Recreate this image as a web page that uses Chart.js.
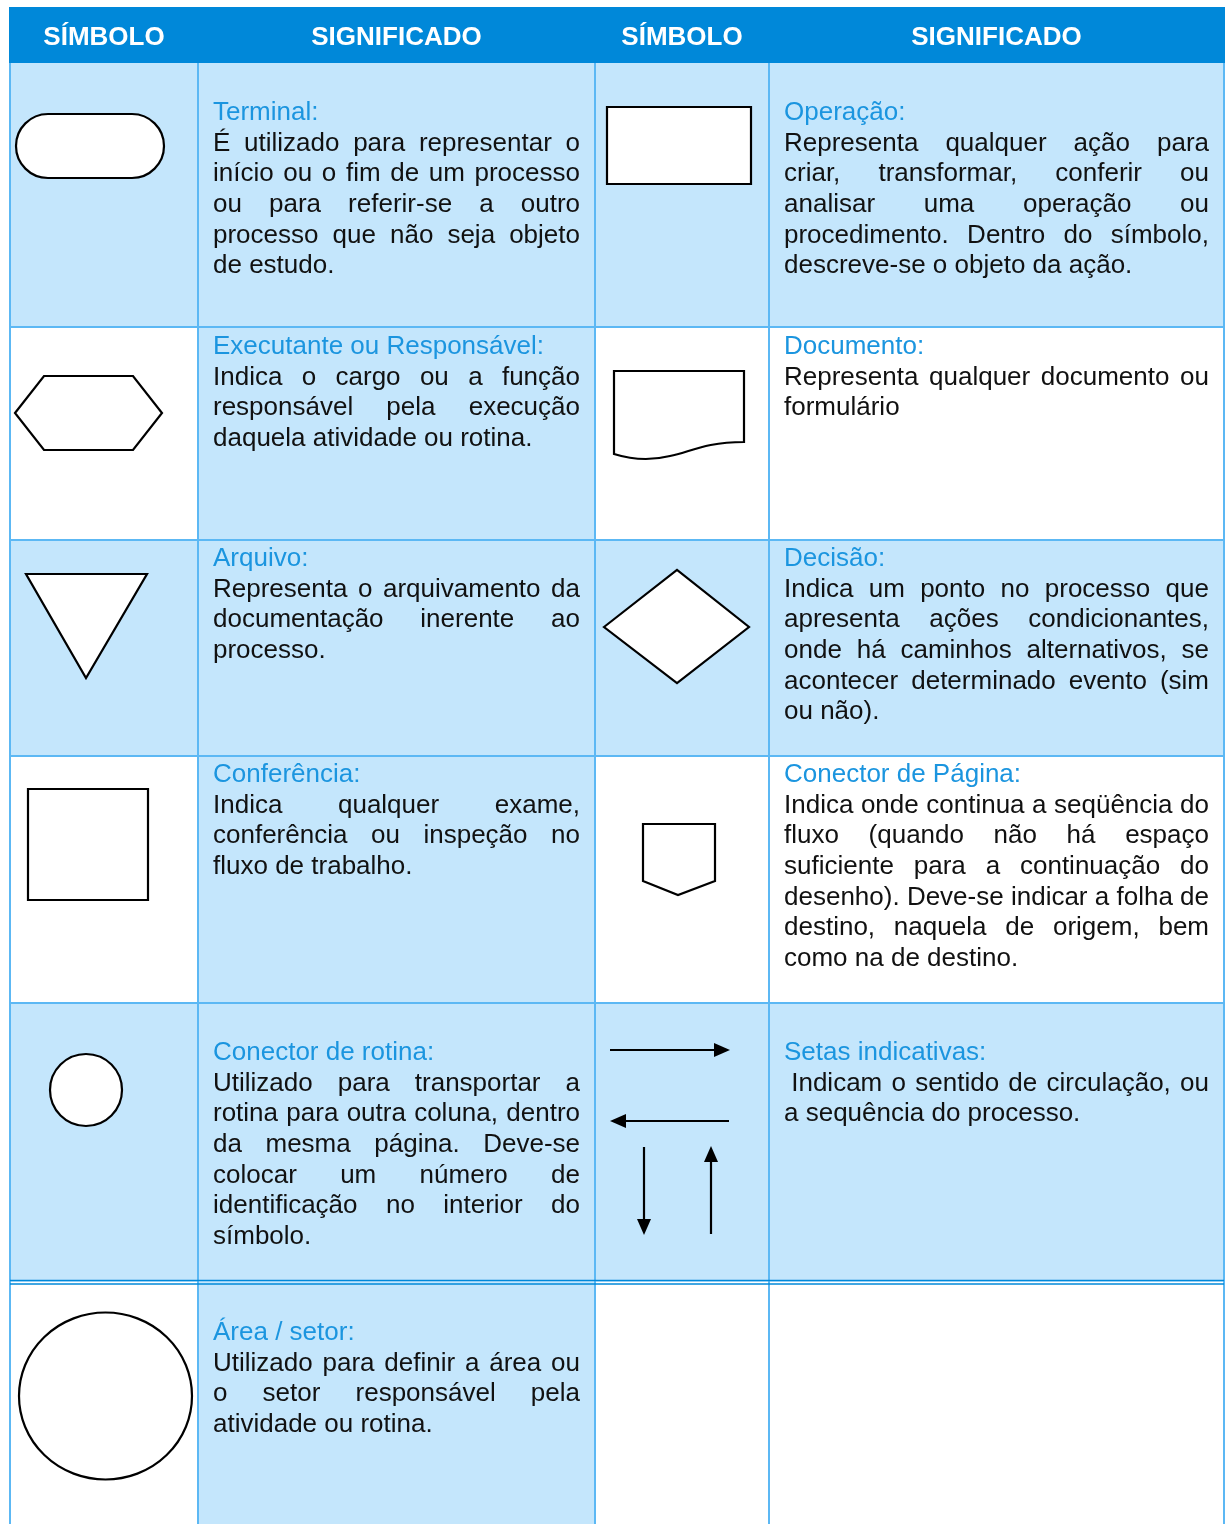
<!DOCTYPE html>
<html>
<head>
<meta charset="utf-8">
<script src="https://cdn.jsdelivr.net/npm/chart.js@4.4.0/dist/chart.umd.min.js"></script>
<style>
  body { margin: 0; background: #fff; }
  canvas { display: block; }
</style>
</head>
<body>
<canvas id="symbolChart" width="1225" height="1524"></canvas>
<script>
// table content
var headers = ["SÍMBOLO", "SIGNIFICADO", "SÍMBOLO", "SIGNIFICADO"];

var symbolNames = [
  "Terminal:", "Operação:",
  "Executante ou Responsável:", "Documento:",
  "Arquivo:", "Decisão:",
  "Conferência:", "Conector de Página:",
  "Conector de rotina:", "Setas indicativas:",
  "Área / setor:"
];

var symbolKinds = [
  "terminal", "operation",
  "hexagon", "document",
  "triangle", "diamond",
  "square", "pageConnector",
  "circle", "arrows",
  "area"
];

var symbolTexts = [
  ["É utilizado para representar o", "início ou o fim de um processo", "ou para referir-se a outro", "processo que não seja objeto", "de estudo."],
  ["Representa qualquer ação para", "criar, transformar, conferir ou", "analisar uma operação ou", "procedimento. Dentro do símbolo,", "descreve-se o objeto da ação."],
  ["Indica o cargo ou a função", "responsável pela execução", "daquela atividade ou rotina."],
  ["Representa qualquer documento ou", "formulário"],
  ["Representa o arquivamento da", "documentação inerente ao", "processo."],
  ["Indica um ponto no processo que", "apresenta ações condicionantes,", "onde há caminhos alternativos, se", "acontecer determinado evento (sim", "ou não)."],
  ["Indica qualquer exame,", "conferência ou inspeção no", "fluxo de trabalho."],
  ["Indica onde continua a seqüência do", "fluxo (quando não há espaço", "suficiente para a continuação do", "desenho). Deve-se indicar a folha de", "destino, naquela de origem, bem", "como na de destino."],
  ["Utilizado para transportar a", "rotina para outra coluna, dentro", "da mesma página. Deve-se", "colocar um número de", "identificação no interior do", "símbolo."],
  [" Indicam o sentido de circulação, ou", "a sequência do processo."],
  ["Utilizado para definir a área ou", "o setor responsável pela", "atividade ou rotina."]
];

// layout (table units = page pixels)
var colEdges = [10, 198, 595, 769, 1224];
var rowEdges = [63, 327, 540, 756, 1003, 1282, 1524];
var titleY = [113, 347, 559, 775, 1053, 1333];
var lineStep = 30.6;
var textPad = [15, 15];

var headerBlue = "#0088d9";
var cellBlue = "#c4e6fc";
var gridBlue = "#5cb8f4";
var titleBlue = "#1b95df";
var fontFamily = '"Liberation Sans", Arial, sans-serif';

function drawLine(ctx, text, x0, x1, y, justify) {
  var space = ctx.measureText(" ").width;
  var lead = 0;
  if (text.charAt(0) == " ") {
    lead = space;
    text = text.replace(/^ +/, "");
  }
  var words = text.split(" ");
  var widths = words.map(function(w) { return ctx.measureText(w).width; });
  var sum = widths.reduce(function(a, b) { return a + b; }, 0);
  var avail = x1 - x0 - lead;
  var natural = sum + space * (words.length - 1);
  var scale = 1;
  var gap = space;
  if (natural > avail) {
    scale = avail / natural;
  } else if (justify && words.length > 1) {
    gap = (avail - sum) / (words.length - 1);
  }
  ctx.save();
  ctx.translate(x0 + lead, y);
  ctx.scale(scale, 1);
  var x = 0;
  for (var i = 0; i < words.length; i++) {
    ctx.fillText(words[i], x, 0);
    x += widths[i] + gap;
  }
  ctx.restore();
}

function drawSymbol(ctx, kind, X, Y) {
  ctx.save();
  ctx.strokeStyle = "#000";
  ctx.fillStyle = "#fff";
  ctx.lineWidth = 2.2;
  ctx.lineJoin = "miter";
  ctx.beginPath();
  if (kind == "terminal") {
    ctx.roundRect(X(16), Y(114), X(164) - X(16), Y(178) - Y(114), 32);
  } else if (kind == "operation") {
    ctx.rect(X(607), Y(107), X(751) - X(607), Y(184) - Y(107));
  } else if (kind == "hexagon") {
    ctx.moveTo(X(15), Y(413));
    ctx.lineTo(X(44), Y(376));
    ctx.lineTo(X(133), Y(376));
    ctx.lineTo(X(162), Y(413));
    ctx.lineTo(X(133), Y(450));
    ctx.lineTo(X(44), Y(450));
    ctx.closePath();
  } else if (kind == "document") {
    ctx.moveTo(X(614), Y(454));
    ctx.lineTo(X(614), Y(371));
    ctx.lineTo(X(744), Y(371));
    ctx.lineTo(X(744), Y(442));
    ctx.bezierCurveTo(X(705), Y(442), X(690), Y(452), X(670), Y(456));
    ctx.bezierCurveTo(X(650), Y(461), X(630), Y(459), X(614), Y(454));
    ctx.closePath();
  } else if (kind == "triangle") {
    ctx.moveTo(X(26), Y(574));
    ctx.lineTo(X(147), Y(574));
    ctx.lineTo(X(86), Y(678));
    ctx.closePath();
  } else if (kind == "diamond") {
    ctx.moveTo(X(604), Y(627));
    ctx.lineTo(X(677), Y(570));
    ctx.lineTo(X(749), Y(627));
    ctx.lineTo(X(677), Y(683));
    ctx.closePath();
  } else if (kind == "square") {
    ctx.rect(X(28), Y(789), X(148) - X(28), Y(900) - Y(789));
  } else if (kind == "pageConnector") {
    ctx.moveTo(X(643), Y(824));
    ctx.lineTo(X(715), Y(824));
    ctx.lineTo(X(715), Y(881));
    ctx.lineTo(X(678), Y(895));
    ctx.lineTo(X(643), Y(881));
    ctx.closePath();
  } else if (kind == "circle") {
    ctx.ellipse(X(86), Y(1090), 36, 36, 0, 0, Math.PI * 2);
  } else if (kind == "area") {
    ctx.ellipse(X(105.5), Y(1396), 86.5, 83.5, 0, 0, Math.PI * 2);
  } else if (kind == "arrows") {
    drawArrow(ctx, X(610), Y(1050), X(730), Y(1050));
    drawArrow(ctx, X(729), Y(1121), X(610), Y(1121));
    drawArrow(ctx, X(644), Y(1147), X(644), Y(1235));
    drawArrow(ctx, X(711), Y(1234), X(711), Y(1146));
    ctx.restore();
    return;
  }
  ctx.fill();
  ctx.stroke();
  ctx.restore();
}

function drawArrow(ctx, x0, y0, x1, y1) {
  var ang = Math.atan2(y1 - y0, x1 - x0);
  var len = 16, half = 7;
  var bx = x1 - Math.cos(ang) * len, by = y1 - Math.sin(ang) * len;
  ctx.beginPath();
  ctx.moveTo(x0, y0);
  ctx.lineTo(bx, by);
  ctx.stroke();
  ctx.beginPath();
  ctx.fillStyle = "#000";
  ctx.moveTo(x1, y1);
  ctx.lineTo(bx - Math.sin(ang) * half, by + Math.cos(ang) * half);
  ctx.lineTo(bx + Math.sin(ang) * half, by - Math.cos(ang) * half);
  ctx.closePath();
  ctx.fill();
}

var tablePlugin = {
  id: "symbolTable",
  beforeDatasetsDraw: function(chart) {
    var ctx = chart.ctx;
    var sx = chart.scales.x, sy = chart.scales.y;
    var X = function(v) { return sx.getPixelForValue(v); };
    var Y = function(v) { return sy.getPixelForValue(v); };
    ctx.save();
    ctx.fillStyle = "#fff";
    ctx.fillRect(0, 0, chart.width, chart.height);

    // cell backgrounds
    for (var r = 0; r < rowEdges.length - 1; r++) {
      for (var c = 0; c < colEdges.length - 1; c++) {
        var shaded = (r % 2 == 0) || c == 1;
        if (!shaded) continue;
        ctx.fillStyle = cellBlue;
        ctx.fillRect(X(colEdges[c]), Y(rowEdges[r]), X(colEdges[c + 1]) - X(colEdges[c]), Y(rowEdges[r + 1]) - Y(rowEdges[r]));
      }
    }

    // grid
    ctx.strokeStyle = gridBlue;
    ctx.lineWidth = 2;
    for (var i = 0; i < colEdges.length; i++) {
      ctx.beginPath();
      ctx.moveTo(X(colEdges[i]), Y(rowEdges[0]));
      ctx.lineTo(X(colEdges[i]), Y(rowEdges[rowEdges.length - 1]));
      ctx.stroke();
    }
    for (var j = 1; j < rowEdges.length - 2; j++) {
      ctx.beginPath();
      ctx.moveTo(X(colEdges[0]), Y(rowEdges[j]));
      ctx.lineTo(X(colEdges[colEdges.length - 1]), Y(rowEdges[j]));
      ctx.stroke();
    }
    // double rule before last row
    ctx.strokeStyle = headerBlue;
    ctx.lineWidth = 1.6;
    [rowEdges[5] - 1.5, rowEdges[5] + 2].forEach(function(yv) {
      ctx.beginPath();
      ctx.moveTo(X(colEdges[0]), Y(yv));
      ctx.lineTo(X(colEdges[colEdges.length - 1]), Y(yv));
      ctx.stroke();
    });

    // header
    ctx.fillStyle = headerBlue;
    ctx.fillRect(X(9), Y(7), X(1225) - X(9), Y(63) - Y(7));
    ctx.fillStyle = "#fff";
    ctx.font = "bold 26px " + fontFamily;
    ctx.textAlign = "center";
    ctx.textBaseline = "middle";
    for (var h = 0; h < headers.length; h++) {
      ctx.fillText(headers[h], X((colEdges[h] + colEdges[h + 1]) / 2), Y(38));
    }

    // symbols
    for (var s = 0; s < symbolKinds.length; s++) {
      drawSymbol(ctx, symbolKinds[s], X, Y);
    }

    // descriptions
    ctx.textAlign = "left";
    ctx.textBaseline = "middle";
    ctx.font = "26px " + fontFamily;
    for (var k = 0; k < symbolNames.length; k++) {
      var row = Math.floor(k / 2);
      var col = (k % 2) * 2 + 1;
      var x0 = X(colEdges[col] + textPad[0]);
      var x1 = X(colEdges[col + 1] - textPad[1]);
      var y = Y(titleY[row]);
      ctx.fillStyle = titleBlue;
      ctx.fillText(symbolNames[k], x0, y);
      ctx.fillStyle = "#111";
      var lines = symbolTexts[k];
      for (var l = 0; l < lines.length; l++) {
        drawLine(ctx, lines[l], x0, x1, Y(titleY[row] + lineStep * (l + 1)), l < lines.length - 1);
      }
    }
    ctx.restore();
  }
};

var chart = new Chart(document.getElementById("symbolChart"), {
  type: "scatter",
  data: { datasets: [{ data: [] }] },
  options: {
    responsive: false,
    devicePixelRatio: 1,
    animation: false,
    layout: { padding: 0 },
    plugins: { legend: { display: false }, tooltip: { enabled: false } },
    scales: {
      x: { type: "linear", min: 0, max: 1225, display: false },
      y: { type: "linear", min: 0, max: 1524, reverse: true, display: false }
    }
  },
  plugins: [tablePlugin]
});
</script>
</body>
</html>
